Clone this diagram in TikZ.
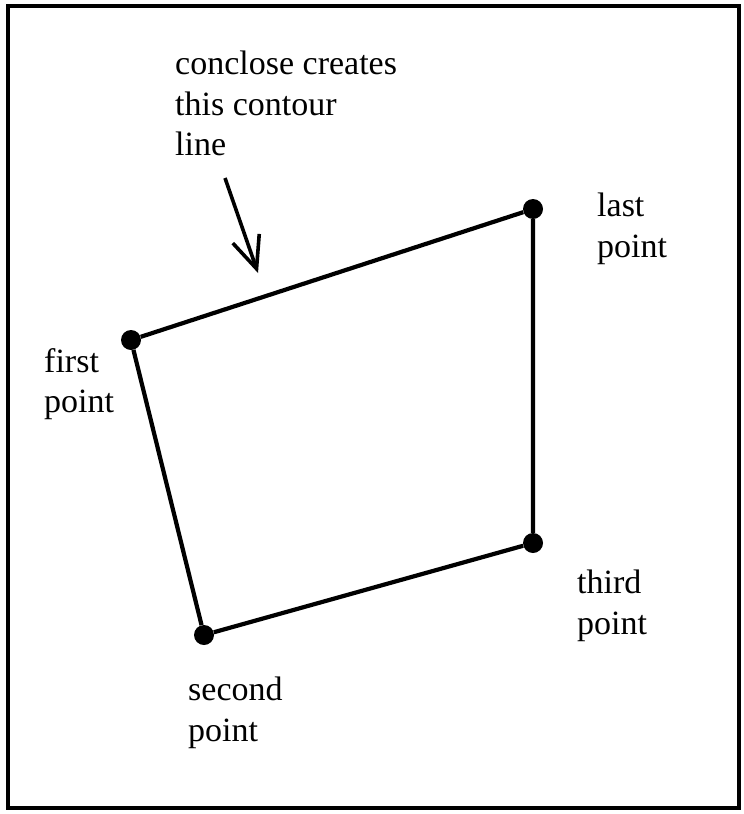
\documentclass[tikz,border=0pt]{standalone}
\usepackage{fontspec}
\setmainfont{Liberation Serif}
\usetikzlibrary{arrows.meta}

\begin{document}
\begin{tikzpicture}[
  x=1pt, y=-1pt,
  font=\fontsize{34}{40.5}\selectfont,
  vertex/.style={circle, fill=black, inner sep=0pt, minimum size=20pt},
  lbl/.style={anchor=north west, inner sep=0pt, align=left},
  edge/.style={line width=4.2pt, line join=round},
  hint/.style={-{Straight Barb[length=32pt,width=28pt,line width=3.6pt]}, line width=3.6pt},
]
\useasboundingbox (0,0) rectangle (744,814);
\draw[line width=3.2pt] (8,6) rectangle (739,808);

% the four points of the contour
\node[vertex] (first)  at (131,340) {};
\node[vertex] (second) at (204,635) {};
\node[vertex] (third)  at (533,543) {};
\node[vertex] (last)   at (533,209) {};

\draw[edge] (first) -- (second) -- (third) -- (last) -- (first);

% labels
\node[lbl] (note)    at (175,51)  {conclose creates\\this contour\\line};
\node[lbl] (lastlbl) at (597,193) {last\\point};
\node[lbl] (firstlbl) at (44,348) {first\\point};
\node[lbl] (thirdlbl) at (577,570) {third\\point};
\node[lbl] (secondlbl) at (188,677) {second\\point};

\coordinate (tip) at (258,273);
\coordinate (tail) at (225,178);
\draw[hint] (tail) -- (tip);
\end{tikzpicture}
\end{document}
